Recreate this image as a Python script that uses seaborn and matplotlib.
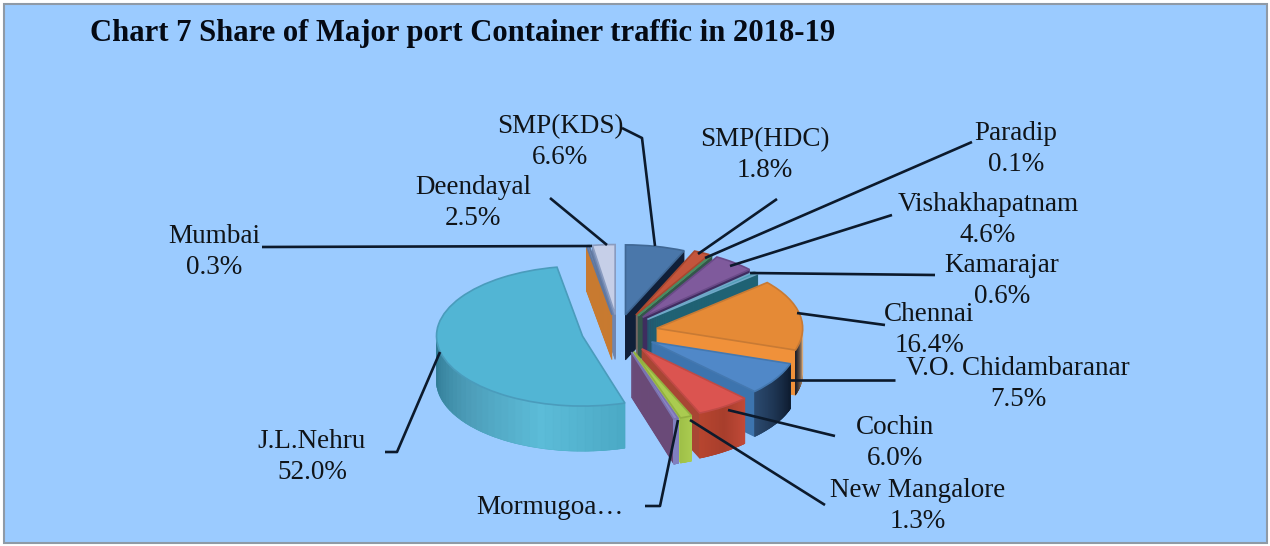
import numpy as np
import matplotlib
matplotlib.use('Agg')
import matplotlib.pyplot as plt
from matplotlib.patches import Rectangle
import seaborn as sns

ports = ['SMP(KDS)', 'SMP(HDC)', 'Paradip', 'Vishakhapatnam', 'Kamarajar', 'Chennai',
         'V.O. Chidambaranar', 'Cochin', 'New Mangalore', 'Mormugoa…', 'J.L.Nehru', 'Mumbai', 'Deendayal']
shares = [6.6, 1.8, 0.1, 4.6, 0.6, 16.4, 7.5, 6.0, 1.3, 0.5, 52.0, 0.3, 2.5]

# colours: top face, cut face, outer wall (left to right)
top_colors = ['#4a77aa', '#c4553c', '#5f9a72', '#7f5a9c', '#4a9db4', '#e58a36', '#5088c8',
              '#db5450', '#aacb50', '#8c84c6', '#52b5d4', '#7088b4', '#c6cfe8']
cut_colors = ['#101f38', '#7a6a66', '#33564a', '#3f2d60', '#1f6274', '#f0913a', '#3d74ae',
              '#a84634', '#aacb50', '#6a4a78', '#4aa6c2', '#c87a30', '#6f86b0']
wall_colors = [['#23406a', '#23406a'], ['#8a3a2a', '#8a3a2a'], ['#33564a', '#33564a'],
               ['#4a3068', '#4a3068'], ['#1f6274', '#1f6274'], ['#181c28', '#e0b080'],
               ['#2b4a70', '#0e1c30'], ['#b8452f', '#a83e2c', '#c24a38'],
               ['#9fc048', '#aacb50'], ['#8080c0', '#8080c0'],
               ['#2f7a94', '#4c9cb8', '#5cbcd8', '#4aa8c4'], ['#6080aa', '#6080aa'], ['#c87a30', '#c87a30']]
edge_colors = ['#3f6794', '#a8482f', '#4a8a60', '#6a4a88', '#6fa8c8', '#c87a34', '#4478b0',
               '#c04a46', '#93b040', '#7a74b0', '#4a9cbc', '#6078a0', '#8a9cc0']
explodes = [0.25, 0.27, 0.27, 0.27, 0.27, 0.27, 0.27, 0.29, 0.3, 0.3, 0.25, 0.25, 0.25]

W, H = 1270, 546
cx, cy, rx, ry = 618, 332, 146, 70
depth_px = 45

# layout in pixels: label centre, leader line
label_xy = [(560, 142), (765, 155), (1016, 149), (988, 220), (1002, 281), (929, 330),
            (1018, 384), (895, 443), (918, 506), (550, 507), (312, 457), (214, 252), (473, 203)]
leaders = [[(622, 128), (642, 138), (655, 246)], [(777, 199), (698, 254)], [(972, 142), (705, 258)],
           [(892, 215), (730, 266)], [(935, 275), (750, 273)], [(885, 325), (797, 313)],
           [(895, 380), (790, 380)], [(835, 436), (728, 410)], [(825, 505), (690, 420)],
           [(645, 506), (660, 506), (678, 420)], [(385, 452), (397, 452), (440, 352)],
           [(262, 247), (592, 246)], [(550, 198), (607, 245)]]

sns.set_theme(style='white')
plt.rcParams['font.family'] = ['Liberation Serif', 'DejaVu Serif']

fig = plt.figure(figsize=(W / 100, H / 100), dpi=100, facecolor='white')

bg = fig.add_axes([0, 0, 1, 1], zorder=0)
bg.set_xlim(0, W)
bg.set_ylim(H, 0)
bg.axis('off')
bg.add_patch(Rectangle((3.5, 3.5), W - 7, H - 7, facecolor='#9bcbff', edgecolor='#8f9aa6', linewidth=1.5))

ax = fig.add_axes([0, 0, 1, 1], zorder=1)
ax.patch.set_alpha(0)
step = 1.0 / ry

# extrude the slices: stack of the same pie going down, then the outer walls, then the top
for k in range(depth_px, 0, -1):
    layer, _ = ax.pie(shares, explode=explodes, colors=cut_colors, startangle=90, counterclock=False,
                      center=(0, -k * step), radius=1)
    for w, c in zip(layer, cut_colors):
        w.set_edgecolor(c)
        w.set_linewidth(0.6)

wedges, _ = ax.pie(shares, explode=explodes, colors=top_colors, startangle=90, counterclock=False,
                   center=(0, 0), radius=1, wedgeprops={'linewidth': 1.2})
for w, e in zip(wedges, edge_colors):
    w.set_edgecolor(e)
    w.set_zorder(5)

for w, shades in zip(wedges, wall_colors):
    angles = np.linspace(w.theta1, w.theta2, 60)
    angles = angles[np.sin(np.radians(angles)) < 0]
    if len(angles) < 2:
        continue
    ramp = sns.blend_palette(shades, len(angles))
    for i in range(len(angles) - 1):
        xs = np.cos(np.radians(angles[i:i + 2])) + w.center[0]
        ys = np.sin(np.radians(angles[i:i + 2])) + w.center[1]
        ax.fill(np.r_[xs, xs[::-1]], np.r_[ys, ys[::-1] - depth_px * step],
                color=ramp[i], linewidth=0.5, zorder=4)

ax.set_aspect('auto')
ax.set_xlim(-cx / rx, (W - cx) / rx)
ax.set_ylim((cy - H) / ry, cy / ry)
ax.axis('off')

ov = fig.add_axes([0, 0, 1, 1], zorder=2)
ov.set_xlim(0, W)
ov.set_ylim(H, 0)
ov.axis('off')
for line in leaders:
    ov.plot([p[0] for p in line], [p[1] for p in line], color='#0c1a2c', linewidth=1.9,
            solid_capstyle='butt')

for name, val, (x, y) in zip(ports, shares, label_xy):
    s = name if name.endswith('…') else f'{name}\n{val:.1f}%'
    ov.text(x, y, s, ha='center', va='center', fontsize=19.5, color='#101418', linespacing=1.3)

ov.text(90, 33, 'Chart 7 Share of Major port Container traffic in 2018-19', ha='left', va='center',
        fontsize=22.1, fontweight='bold', color='#050a14')

fig.savefig('out.png', dpi=100)
